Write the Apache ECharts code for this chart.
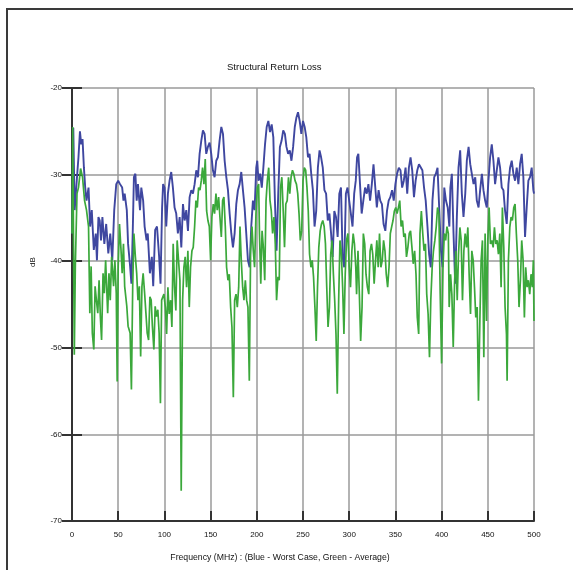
<!DOCTYPE html>
<html>
<head>
<meta charset="utf-8">
<title>Structural Return Loss</title>
<script src="https://cdn.jsdelivr.net/npm/echarts@6.0.0/dist/echarts.min.js"></script>
<style>
html, body { margin: 0; padding: 0; background: #fff; }
#chart { width: 573px; height: 570px; }
</style>
</head>
<body>
<div id="chart"></div>
<script>
// x ticks (MHz) and y ticks (dB)
var freqTicks = [0, 50, 100, 150, 200, 250, 300, 350, 400, 450, 500];
var dbTicks = [-70, -60, -50, -40, -30, -20];

// Blue - worst case, [MHz, dB]
var worstCase = [
  [0,-36.8],[1.4,-24.6],[2.9,-34.1],[5.4,-30.3],[7,-28],[8.6,-25],[10,-26.5],[11.4,-25.9],[12.9,-29.2],[14.3,-31.5],
  [15.7,-33],[17.9,-31.5],[19.6,-36],[21.4,-34.1],[23.6,-38.7],[25.7,-36.8],[27,-39.9],[28.6,-34.9],[30,-35.3],[31.4,-37.6],
  [32.9,-34.9],[35,-38],[37,-35.7],[39.3,-39.1],[41.4,-36.8],[43.6,-39.9],[45.7,-34.1],[47.9,-31.1],[50,-30.7],[52,-31.1],
  [54.3,-31.5],[55.7,-33],[57,-32.2],[59.3,-34.1],[60.7,-38],[62.9,-40.6],[64.3,-42.6],[65.7,-36.8],[67,-30.3],[68.6,-29.9],
  [70,-33],[71.4,-31.1],[73.6,-34.1],[75,-31.5],[77,-33],[78.6,-36],[80.7,-37.6],[82,-36.8],[84.3,-41.4],[86.4,-39.5],
  [87.9,-42.9],[90,-36.4],[92,-36],[94.3,-39.5],[95.8,-42.6],[97.5,-33.8],[98.6,-31.1],[100.2,-31.5],[102,-36],[103.8,-32.2],
  [105.6,-30.7],[107.4,-29.7],[109.2,-31.5],[111,-33.8],[112.8,-34.5],[114.6,-36.8],[116.5,-34.9],[118.3,-38.4],[120.1,-33.4],[121.9,-35.3],
  [123.7,-34.1],[125.5,-36.5],[127.3,-32.6],[129.1,-31.8],[130.9,-32.2],[132.7,-31.1],[134.5,-29.5],[136.3,-30.3],[138.1,-27.6],[139.9,-26.1],
  [141.7,-24.9],[143.5,-25.3],[145.3,-27.6],[147.1,-26.8],[148.9,-26.3],[150.7,-27.6],[152.5,-29.5],[154.3,-30.3],[156.1,-28.4],[157.9,-28],
  [159.7,-26.1],[161.6,-24.5],[163.4,-25.3],[165.2,-28.4],[167,-30.3],[168.8,-31.8],[170.6,-34.5],[172.4,-36.8],[174.2,-38.4],[176,-36.8],
  [177.8,-33.4],[179.6,-31.8],[181.4,-31.1],[183.2,-29.7],[185,-31.8],[186.8,-33.8],[188.6,-36.8],[190.4,-39.9],[192.2,-40.7],[194,-36],
  [195.8,-33],[197.6,-34.1],[199.4,-29.2],[200.5,-28.4],[201.8,-30.7],[203.6,-29.9],[205.4,-31.5],[207.1,-29.2],[208.9,-26.5],[210.7,-24.5],
  [212.5,-23.8],[214.3,-25.1],[216.1,-24.2],[217.9,-25.7],[219.6,-33],[221.4,-38.8],[223.2,-32.2],[225,-26.8],[226.8,-26.1],[228.6,-24.9],
  [230.4,-25.3],[232.1,-26.8],[233.9,-27.6],[235.7,-27.2],[237.5,-28.4],[239.3,-26.8],[241.1,-24.5],[242.9,-23.4],[244.6,-22.8],[246.4,-23.8],
  [248.2,-25.3],[250,-23.8],[251.8,-24.5],[253.6,-25.7],[255.4,-28],[257.1,-27.6],[258.9,-29.9],[260.7,-31.8],[262.5,-36],[264.3,-34.2],
  [266.1,-29.2],[267.9,-27.2],[269.6,-28],[271.4,-29.2],[273.2,-31.8],[275,-32.2],[276.8,-35.3],[278.6,-34.5],[280.4,-36.8],[282.1,-39.5],
  [283.9,-34.2],[285.7,-34.9],[287.5,-37.2],[289.3,-32.2],[291.1,-31.5],[292.9,-39.5],[294.6,-40.7],[296.4,-32.2],[298.2,-31.5],[300,-33],
  [301.8,-34.5],[303.6,-36],[305.4,-32.2],[307.1,-30.7],[308.5,-28],[309.9,-27.6],[311.7,-31.1],[313.5,-34.5],[315.3,-33],[317.2,-31.5],
  [319,-32.2],[320.8,-31.1],[322.6,-33],[324.5,-31.1],[326.3,-28.8],[328.1,-28.8],[329.9,-33.8],[331.8,-31.8],[333.6,-33],[335.4,-33.4],
  [337.2,-35.7],[339.1,-36.5],[340.9,-34.2],[342.7,-33],[344.5,-32.6],[346.4,-31.8],[348.2,-33],[350,-31.1],[351.8,-29.9],[353.7,-29.2],
  [355.5,-29.5],[357.3,-31.5],[359.1,-30.7],[361,-29.2],[362.8,-32.2],[364.6,-29.2],[366.4,-28],[368.2,-29.5],[370.1,-32.6],[371.9,-30.7],
  [373.7,-29.5],[375.5,-28.8],[377.4,-28.8],[379.2,-29.5],[381,-31.5],[382.8,-33],[384.7,-36],[386.5,-39.2],[388.3,-40.7],[390.1,-33],
  [392,-30.3],[393.8,-29.9],[395.6,-29.2],[397.4,-29.2],[399.3,-38.8],[401.1,-40.7],[402.9,-31.5],[404.7,-33],[406.6,-33.8],[408.4,-36],
  [409.5,-31.5],[411.1,-29.9],[412.9,-36.8],[414.7,-42.6],[416.5,-34.9],[418.3,-29.2],[420.1,-27.2],[421.9,-32.2],[423.7,-34.9],[425.6,-32.2],
  [427.3,-28.4],[429.2,-26.8],[431,-28.8],[432.7,-29.9],[434.6,-31.1],[436.4,-30.3],[438.1,-33],[440,-33.8],[441.7,-31.8],[443.6,-29.9],
  [445.3,-31.8],[447.1,-33],[448.9,-33.8],[450.7,-30.7],[452.5,-28],[454.3,-26.5],[456.1,-28.4],[457.9,-31.1],[459.7,-29.5],[461.5,-28],
  [463.3,-29.2],[465.1,-31.5],[466.9,-31.8],[468.7,-34.2],[470.5,-35.7],[472.3,-31.1],[474.1,-29.2],[475.9,-28.4],[477.7,-29.9],[479.5,-30.7],
  [481.3,-29.2],[483.1,-31.1],[484.9,-28.8],[486.7,-27.6],[488.5,-30.3],[490.3,-37.2],[492.1,-33.8],[493.9,-30.7],[495.7,-30.3],[497.5,-29.2],
  [499.3,-31.8],[500,-32.2]
];

// Green - average, [MHz, dB]
var average = [
  [0,-36.8],[0.8,-24.5],[2.5,-50.8],[3.6,-40.6],[5.4,-32.2],[7,-31.5],[9.3,-29.3],[11.4,-30.3],[13.6,-33],[15.7,-34.1],
  [17.9,-36],[19.3,-46],[20.7,-40.6],[22,-48.3],[23.6,-50.2],[25,-42.9],[26.4,-44.5],[27.9,-46],[29.3,-42.2],[30.7,-46.4],
  [32,-49.1],[33.6,-41.4],[35,-43.7],[36.4,-39.9],[38.6,-46],[40,-41.4],[41.4,-44.5],[42.9,-39.5],[45,-42.9],[46.4,-39.9],
  [47.9,-43.7],[48.9,-53.9],[50,-40.6],[51.4,-35.7],[52.9,-38.4],[54.3,-41.4],[55.7,-38],[57,-42.9],[59.3,-45.2],[60.7,-47.5],
  [62.9,-48.3],[64.3,-54.8],[65.7,-42.9],[67,-36.8],[68.6,-39.5],[70,-41.4],[71.4,-44.5],[72.9,-42.9],[74.3,-51],[75.7,-42.9],
  [77,-41.4],[78.6,-43.7],[80,-46],[81.4,-48.3],[82.9,-49.1],[84.3,-44.1],[85.7,-44.5],[87,-47.5],[88.6,-50.2],[90,-45.2],
  [91.4,-46.4],[92.9,-45.6],[94.3,-48.3],[95.7,-56.4],[97,-44.5],[99.5,-43.8],[101,-45.3],[102.4,-48.4],[103.8,-43],[105.2,-46.1],
  [106.7,-44.5],[108.1,-47.6],[109.5,-38],[111,-43],[112.4,-45.7],[113.8,-37.6],[115.3,-39.9],[116.8,-42.2],[118.2,-66.5],[119.7,-44.5],
  [121.1,-40.7],[122.5,-39.5],[124,-43],[125.4,-38.8],[126.9,-45.3],[128.3,-40.7],[129.8,-38.8],[131.2,-38.4],[132.7,-36],[134.1,-33],
  [135.6,-33.8],[137,-31.5],[138.5,-31.8],[139.9,-30.7],[141.3,-29.2],[142.8,-31.1],[144.2,-28.2],[145.7,-34.2],[147.1,-35.3],[148.6,-36],
  [150,-39.9],[151.4,-34.9],[152.9,-33.4],[154.3,-34.5],[155.8,-32.2],[157.2,-34.1],[158.7,-32.6],[160.1,-34.9],[161.6,-37.2],[163,-33],
  [164.4,-32.6],[165.9,-36],[167.3,-40.7],[168.8,-42.2],[170.2,-41.5],[171.7,-45.3],[173.1,-47.6],[174.6,-55.7],[176,-44.5],[177.5,-43.8],
  [178.9,-45.3],[180.4,-43],[181.8,-36],[183.2,-39.9],[184.7,-43],[186.1,-44.5],[187.6,-42.2],[189,-44.5],[190.4,-45.3],[191.9,-53.8],
  [193.3,-38.8],[194.8,-36],[196.2,-38.8],[197.6,-40.7],[199.1,-34.5],[200.5,-31.5],[202,-31.1],[202.9,-36.8],[204.3,-42.6],[205.7,-36.5],
  [207.1,-38.4],[208.6,-42.2],[210,-33],[211.4,-30.7],[212.9,-29.2],[214.3,-33],[215.7,-34.2],[217.1,-36.8],[218.6,-34.9],[220,-38],
  [221.4,-44.5],[222.9,-41.8],[224.3,-42.2],[225.7,-31.5],[227.1,-30.3],[228.6,-34.2],[230,-38.4],[231.4,-33.4],[232.9,-33],[234.3,-30.3],
  [235.7,-32.2],[237.1,-30.3],[238.6,-29.5],[240,-29.9],[241.4,-30.7],[242.9,-31.1],[244.3,-32.2],[245.7,-34.5],[247.1,-37.6],[248.6,-36.5],
  [250,-30.7],[251.4,-29.2],[252.9,-29.5],[254.3,-31.5],[255.7,-34.2],[257.1,-39.2],[258.6,-40.7],[260,-39.9],[261.4,-41.8],[262.9,-45.3],
  [264.3,-49.2],[265.7,-43],[267.1,-38.4],[268.6,-36.5],[270,-35.7],[271.4,-35.3],[272.9,-36],[274.3,-38],[275.7,-43],[277.1,-47.6],
  [278.6,-45.3],[280,-39.2],[281.4,-37.6],[282.9,-41.5],[284.3,-44.5],[285.7,-48.4],[287.1,-55.3],[288.6,-44.5],[290,-37.6],[291.4,-38.8],
  [292.9,-43],[294.3,-48.4],[295.7,-41.5],[297.1,-37.6],[298.6,-36.8],[300,-40.7],[301.4,-43],[302.9,-38.8],[304.3,-36.8],[305.7,-38],
  [307.1,-40.7],[308,-43.8],[309.5,-38.8],[311,-43.8],[312.4,-49.2],[313.9,-45.3],[315.3,-36.8],[316.8,-38],[318.2,-41.5],[319.7,-43],
  [321.2,-43.8],[322.6,-38.8],[324.1,-38],[325.5,-39.2],[327,-42.6],[328.5,-39.9],[329.9,-37.6],[331.4,-40.7],[332.8,-36.8],[334.3,-40.7],
  [335.8,-39.9],[337.2,-37.6],[338.7,-38.8],[340.1,-41.5],[341.6,-43],[343.1,-40.7],[344.5,-36.8],[346,-36],[347.4,-35.3],[348.9,-34.2],
  [350.4,-33.8],[351.8,-34.5],[353.3,-33.8],[354.7,-33],[356.2,-36],[357.7,-35.3],[359.1,-37.2],[360.6,-36.8],[362,-39.5],[363.5,-38.4],
  [365,-36.8],[366.4,-36.5],[367.9,-38.4],[369.3,-40.3],[370.8,-38.8],[372.3,-41.5],[373.7,-46.5],[375.2,-48.4],[376.6,-36.8],[378.1,-34.2],
  [379.6,-36.8],[381,-38.8],[382.5,-38],[383.9,-43.8],[385.4,-46.1],[386.9,-51.1],[388.3,-44.5],[389.8,-40.7],[391.2,-38.8],[392.7,-37.6],
  [394.2,-36],[395.6,-33.8],[397.1,-34.5],[398.5,-43.8],[400,-51.8],[401.5,-40.7],[402.9,-36.8],[404.4,-37.6],[405.8,-36],[407.3,-36.8],
  [408.2,-45.3],[409.7,-41.5],[411.1,-43.8],[412.6,-49.9],[414,-42.6],[415.4,-38.8],[416.9,-44.5],[418.3,-39.2],[419.8,-36.1],[421.2,-37.6],
  [422.6,-44.5],[424.1,-38.8],[425.5,-36.8],[427,-38.4],[428.4,-36.1],[429.8,-41.5],[431.3,-46.1],[432.7,-38.8],[434.2,-39.9],[435.6,-43],
  [437,-46.5],[438.5,-45.3],[439.9,-56.1],[441.4,-46.9],[442.8,-39.9],[444.2,-37.6],[445.7,-51.1],[447.1,-36.8],[448.6,-46.9],[450,-37.6],
  [451.4,-33.8],[452.9,-38],[454.3,-37.6],[455.8,-38.4],[457.2,-36.1],[458.6,-38],[460.1,-37.6],[461.5,-39.2],[463,-36.8],[464.4,-43],
  [465.8,-33.8],[467.3,-38.4],[468.7,-45.3],[470.2,-48.4],[470.9,-53.8],[472.3,-39.9],[473.8,-36.1],[475.2,-34.9],[476.6,-35.3],[478.1,-33.8],
  [479.5,-33.4],[480.9,-36.8],[482.4,-39.9],[483.8,-45.3],[485.3,-42.2],[486.7,-37.6],[488.2,-39.9],[489.6,-46.5],[491,-40.7],[492.5,-43],
  [493.9,-42.2],[495.4,-43.8],[496.8,-41.5],[498.2,-43],[499.3,-39.9],[500,-46.9]
];

var FONT = 'Liberation Sans, Arial, sans-serif';
var gridColor = '#9a9a9a';
var axisColor = '#333';

var option = {
    animation: false,
    backgroundColor: '#fff',
    title: {
        text: 'Structural Return Loss',
        left: 222,
        top: 57,
        textStyle: { fontFamily: FONT, fontSize: 9.5, fontWeight: 'normal', color: '#111' }
    },
    grid: { left: 72, right: 39, top: 88, bottom: 49 },
    xAxis: {
        type: 'value',
        min: freqTicks[0],
        max: freqTicks[freqTicks.length - 1],
        interval: freqTicks[1] - freqTicks[0],
        axisLine: { lineStyle: { color: axisColor, width: 2 } },
        axisTick: { inside: true, length: 10, lineStyle: { color: axisColor, width: 2 } },
        axisLabel: { margin: 10, fontFamily: FONT, fontSize: 8, color: '#111' },
        splitLine: { show: true, lineStyle: { color: gridColor, width: 1.5 } }
    },
    yAxis: [{
        type: 'value',
        min: dbTicks[0],
        max: dbTicks[dbTicks.length - 1],
        interval: dbTicks[1] - dbTicks[0],
        axisLine: { show: true, lineStyle: { color: axisColor, width: 2 } },
        axisTick: { show: true, inside: true, length: 10, lineStyle: { color: axisColor, width: 2 } },
        axisLabel: { margin: 10, fontFamily: FONT, fontSize: 8, color: '#111' },
        splitLine: { show: true, lineStyle: { color: gridColor, width: 1.5 } }
    }, {
        // outer half of the cross ticks on the dB axis
        type: 'value',
        position: 'left',
        offset: 0,
        min: dbTicks[0],
        max: dbTicks[dbTicks.length - 1],
        interval: dbTicks[1] - dbTicks[0],
        axisLine: { show: false },
        axisTick: { show: true, inside: false, length: 10, lineStyle: { color: axisColor, width: 2 } },
        axisLabel: { show: false },
        splitLine: { show: false }
    }],
    series: [{
        name: 'Worst Case',
        type: 'line',
        data: worstCase,
        showSymbol: false,
        symbol: 'none',
        lineStyle: { color: '#3f47a0', width: 1.9 },
        z: 3
    }, {
        name: 'Average',
        type: 'line',
        data: average,
        showSymbol: false,
        symbol: 'none',
        lineStyle: { color: '#3ba83b', width: 1.7 },
        z: 4
    }],
    graphic: [{
        type: 'rect',
        shape: { x: 7, y: 9, width: 620, height: 620 },
        style: { fill: null, stroke: '#3a3a3a', lineWidth: 2 },
        silent: true
    }, {
        type: 'text',
        x: 33,
        y: 262,
        rotation: Math.PI / 2,
        style: { text: 'dB', fontFamily: FONT, fontSize: 8, fill: '#111', align: 'center', verticalAlign: 'middle' }
    }, {
        type: 'text',
        x: 280,
        y: 558,
        style: { text: 'Frequency (MHz) : (Blue - Worst Case, Green - Average)', fontFamily: FONT, fontSize: 8.7, fill: '#111', align: 'center', verticalAlign: 'middle' }
    }]
};

var myChart = echarts.init(document.getElementById('chart'));
myChart.setOption(option);
</script>
</body>
</html>
